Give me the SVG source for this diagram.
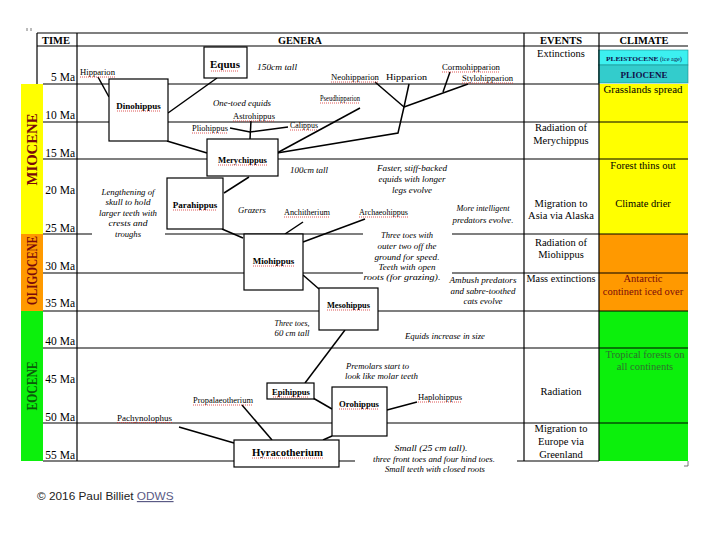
<svg xmlns="http://www.w3.org/2000/svg" width="720" height="540" viewBox="0 0 720 540">
<style>
text{font-family:"Liberation Serif","Times New Roman",serif;fill:#000}
.g line{stroke:#000;stroke-width:1.2}
.c line,.c polyline{stroke:#000;stroke-width:1.5;fill:none}
.bx{fill:#fff;stroke:#000;stroke-width:1.2}
.bl{font-weight:bold;font-size:9px;text-anchor:middle}
.big{font-size:11px}
.lb{font-size:8px}
.nt{font-size:8.5px;font-style:italic}
.ntc{font-size:8.5px;font-style:italic;text-anchor:middle}
.ev{font-size:10.5px;text-anchor:middle}
.hd{font-size:10.5px;font-weight:bold;text-anchor:middle}
.tm{font-size:11.5px;text-anchor:end}
.sq{stroke:#d42a2a;stroke-width:0.8;stroke-dasharray:1 1}
.ep{font-size:14px;font-weight:bold;text-anchor:middle}
.red{fill:#7a0a0a}
.dg{fill:#0a5a0a}
.tg{fill:#2f6f2f}
.nv{fill:#10104a}
.mask{fill:#fff}
</style>
<rect width="720" height="540" fill="#fff"/>

<g id="fills">
  <rect x="21" y="84" width="22" height="150" fill="#ffff00"/>
  <rect x="21" y="234" width="22" height="77" fill="#ff9900"/>
  <rect x="21" y="311" width="22" height="150" fill="#0cf00c"/>
  <rect x="599" y="84" width="89" height="150" fill="#ffff00"/>
  <rect x="599" y="234" width="89" height="77" fill="#ff9900"/>
  <rect x="599" y="311" width="89" height="150" fill="#0cf00c"/>
  <rect x="598.5" y="50" width="89.5" height="15" fill="#3cf0f0" stroke="#1a8a8a" stroke-width="0.6"/>
  <rect x="598.5" y="65" width="89.5" height="18" fill="#33cccc" stroke="#1a8a8a" stroke-width="0.6"/>
</g>

<g id="grid" class="g">
  <line x1="37" y1="33" x2="688" y2="33"/>
  <line x1="37" y1="46" x2="688" y2="46"/>
  <line x1="37" y1="33" x2="37" y2="84"/>
  <line x1="77" y1="33" x2="77" y2="461"/>
  <line x1="524" y1="33" x2="524" y2="461"/>
  <line x1="599" y1="33" x2="599" y2="461"/>
  <line x1="43" y1="84" x2="599" y2="84"/>
  <line x1="43" y1="122" x2="688" y2="122"/>
  <line x1="43" y1="159" x2="688" y2="159"/>
  <line x1="43" y1="234" x2="688" y2="234"/>
  <line x1="43" y1="273" x2="688" y2="273"/>
  <line x1="43" y1="311" x2="688" y2="311"/>
  <line x1="43" y1="348" x2="688" y2="348"/>
  <line x1="43" y1="423" x2="688" y2="423"/>
  <line x1="43" y1="461" x2="599" y2="461"/>
</g>
<g id="corner-marks" stroke="#555" stroke-width="0.8" fill="none">
  <path d="M27,28v3M31,28v3"/>
  <path d="M688,461v5h-4"/>
</g>

<g id="masks">
  <rect class="mask" x="92" y="184" width="73" height="57"/>
  <rect class="mask" x="363" y="228" width="89" height="56"/>
  <rect class="mask" x="355" y="440" width="162" height="36"/>
</g>

<g id="headers">
  <text class="hd" x="56" y="44" textLength="28" lengthAdjust="spacingAndGlyphs">TIME</text>
  <text class="hd" x="300" y="44" textLength="44" lengthAdjust="spacingAndGlyphs">GENERA</text>
  <text class="hd" x="561" y="44" textLength="42" lengthAdjust="spacingAndGlyphs">EVENTS</text>
  <text class="hd" x="644" y="44" textLength="49" lengthAdjust="spacingAndGlyphs">CLIMATE</text>
</g>

<g id="time">
  <text class="tm" x="75" y="81">5 Ma</text>
  <text class="tm" x="75" y="119">10 Ma</text>
  <text class="tm" x="75" y="157">15 Ma</text>
  <text class="tm" x="75" y="194">20 Ma</text>
  <text class="tm" x="75" y="232">25 Ma</text>
  <text class="tm" x="75" y="270">30 Ma</text>
  <text class="tm" x="75" y="307">35 Ma</text>
  <text class="tm" x="75" y="345">40 Ma</text>
  <text class="tm" x="75" y="383">45 Ma</text>
  <text class="tm" x="75" y="421">50 Ma</text>
  <text class="tm" x="75" y="459">55 Ma</text>
</g>

<g id="epochs">
  <text class="ep red" transform="translate(37,149.5) rotate(-90)" textLength="72" lengthAdjust="spacingAndGlyphs">MIOCENE</text>
  <text class="ep red" transform="translate(37,270.5) rotate(-90)" textLength="69" lengthAdjust="spacingAndGlyphs">OLIGOCENE</text>
  <text class="ep dg" transform="translate(37,386) rotate(-90)" textLength="49" lengthAdjust="spacingAndGlyphs">EOCENE</text>
</g>

<g id="connectors" class="c">
  <line x1="98" y1="77" x2="109" y2="97"/>
  <line x1="168" y1="113" x2="217" y2="78"/>
  <line x1="167" y1="141" x2="207" y2="153"/>
  <polyline points="230,128 250,132 288,127"/>
  <line x1="251" y1="121" x2="250" y2="139"/>
  <line x1="277" y1="153" x2="360" y2="108"/>
  <polyline points="277,153 398,133 404,107"/>
  <line x1="404" y1="107" x2="375" y2="82"/>
  <line x1="404" y1="107" x2="409" y2="84"/>
  <line x1="404" y1="107" x2="468" y2="84"/>
  <line x1="443" y1="92" x2="450" y2="72"/>
  <line x1="224" y1="193" x2="249" y2="177"/>
  <line x1="222" y1="229" x2="243" y2="238"/>
  <line x1="303" y1="222" x2="285" y2="234"/>
  <line x1="365" y1="219" x2="303" y2="242"/>
  <line x1="303" y1="275" x2="319" y2="289"/>
  <line x1="345" y1="330" x2="305" y2="383"/>
  <line x1="313" y1="398" x2="332" y2="409"/>
  <line x1="332" y1="436" x2="323" y2="440"/>
  <line x1="387" y1="410" x2="417" y2="402"/>
  <line x1="242" y1="405" x2="272" y2="440"/>
  <line x1="179" y1="427" x2="234" y2="443"/>
</g>

<g id="node-equus">
  <rect class="bx" x="204" y="47" width="43" height="31"/>
  <text class="bl big" x="225" y="68">Equus</text>
  <line class="sq" x1="211" y1="71" x2="239" y2="71"/>
</g>
<g id="node-dinohippus">
  <rect class="bx" x="109" y="79" width="59" height="62"/>
  <text class="bl" x="138.5" y="109">Dinohippus</text>
  <line class="sq" x1="117" y1="111" x2="160" y2="111"/>
</g>
<g id="node-merychippus">
  <rect class="bx" x="207" y="139" width="71" height="37"/>
  <text class="bl" x="242.5" y="163" textLength="49" lengthAdjust="spacingAndGlyphs">Merychippus</text>
  <line class="sq" x1="218" y1="165" x2="267" y2="165"/>
</g>
<g id="node-parahippus">
  <rect class="bx" x="167" y="178" width="56" height="51"/>
  <text class="bl" x="195" y="208">Parahippus</text>
  <line class="sq" x1="173" y1="210" x2="217" y2="210"/>
</g>
<g id="node-miohippus">
  <rect class="bx" x="244" y="234" width="59" height="56"/>
  <text class="bl" x="273.5" y="264">Miohippus</text>
  <line class="sq" x1="253" y1="266" x2="294" y2="266"/>
</g>
<g id="node-mesohippus">
  <rect class="bx" x="319" y="288" width="59" height="42"/>
  <text class="bl" x="348.5" y="308" textLength="43" lengthAdjust="spacingAndGlyphs">Mesohippus</text>
  <line class="sq" x1="327" y1="310" x2="370" y2="310"/>
</g>
<g id="node-epihippus">
  <rect class="bx" x="267" y="383" width="47" height="16"/>
  <text class="bl" x="291" y="395" textLength="38" lengthAdjust="spacingAndGlyphs">Epihippus</text>
  <line class="sq" x1="273" y1="397" x2="309" y2="397"/>
</g>
<g id="node-orohippus">
  <rect class="bx" x="332" y="387" width="55" height="49"/>
  <text class="bl" x="359" y="407" textLength="40" lengthAdjust="spacingAndGlyphs">Orohippus</text>
  <line class="sq" x1="339" y1="409" x2="379" y2="409"/>
</g>
<g id="node-hyracotherium">
  <rect class="bx" x="234" y="440" width="105" height="27"/>
  <text class="bl big" x="287.5" y="456" textLength="71" lengthAdjust="spacingAndGlyphs">Hyracotherium</text>
  <line class="sq" x1="252" y1="458" x2="323" y2="458"/>
</g>

<g id="genus-labels">
  <g id="lbl-hipparion1"><text class="lb" x="80" y="75" textLength="35" lengthAdjust="spacingAndGlyphs">Hipparion</text><line class="sq" x1="80" y1="77" x2="115" y2="77"/></g>
  <g id="lbl-neohipparion"><text class="lb" x="331" y="80" textLength="48" lengthAdjust="spacingAndGlyphs">Neohipparion</text><line class="sq" x1="331" y1="82" x2="379" y2="82"/></g>
  <g id="lbl-hipparion2"><text class="lb" x="386" y="80" textLength="41" lengthAdjust="spacingAndGlyphs">Hipparion</text></g>
  <g id="lbl-cormohipparion"><text class="lb" x="442" y="70" textLength="58" lengthAdjust="spacingAndGlyphs">Cormohipparion</text><line class="sq" x1="442" y1="72" x2="500" y2="72"/></g>
  <g id="lbl-stylohipparion"><text class="lb" x="462" y="81" textLength="51" lengthAdjust="spacingAndGlyphs">Stylohipparion</text><line class="sq" x1="462" y1="83" x2="513" y2="83"/></g>
  <g id="lbl-pseudhipparion"><text class="lb" x="320" y="101" textLength="40" lengthAdjust="spacingAndGlyphs">Pseudhipparion</text><line class="sq" x1="320" y1="103" x2="360" y2="103"/></g>
  <g id="lbl-calippus"><text class="lb" x="290" y="128" textLength="28" lengthAdjust="spacingAndGlyphs">Calippus</text><line class="sq" x1="290" y1="130" x2="318" y2="130"/></g>
  <g id="lbl-pliohippus"><text class="lb" x="192" y="131" textLength="36" lengthAdjust="spacingAndGlyphs">Pliohippus</text><line class="sq" x1="192" y1="133" x2="228" y2="133"/></g>
  <g id="lbl-astrohippus"><text class="lb" x="233" y="119" textLength="42" lengthAdjust="spacingAndGlyphs">Astrohippus</text><line class="sq" x1="233" y1="121" x2="275" y2="121"/></g>
  <g id="lbl-anchitherium"><text class="lb" x="284" y="215" textLength="46" lengthAdjust="spacingAndGlyphs">Anchitherium</text><line class="sq" x1="284" y1="217" x2="330" y2="217"/></g>
  <g id="lbl-archaeohippus"><text class="lb" x="359" y="215" textLength="49" lengthAdjust="spacingAndGlyphs">Archaeohippus</text><line class="sq" x1="359" y1="217" x2="408" y2="217"/></g>
  <g id="lbl-haplohippus"><text class="lb" x="418" y="400" textLength="44" lengthAdjust="spacingAndGlyphs">Haplohippus</text><line class="sq" x1="418" y1="402" x2="462" y2="402"/></g>
  <g id="lbl-propalaeotherium"><text class="lb" x="193" y="403" textLength="60" lengthAdjust="spacingAndGlyphs">Propalaeotherium</text><line class="sq" x1="193" y1="405" x2="253" y2="405"/></g>
  <g id="lbl-pachynolophus"><text class="lb" x="117" y="421" textLength="55" lengthAdjust="spacingAndGlyphs">Pachynolophus</text><line class="sq" x1="117" y1="422.5" x2="172" y2="422.5"/></g>
</g>

<g id="notes">
  <text class="nt" x="257" y="70" textLength="40" lengthAdjust="spacingAndGlyphs">150cm tall</text>
  <text class="nt" x="213" y="106" textLength="58" lengthAdjust="spacingAndGlyphs">One-toed equids</text>
  <text class="nt" x="290" y="173" textLength="38" lengthAdjust="spacingAndGlyphs">100cm tall</text>
  <text class="nt" x="238" y="213" textLength="28" lengthAdjust="spacingAndGlyphs">Grazers</text>
  <text class="ntc" x="412" y="171" textLength="70" lengthAdjust="spacingAndGlyphs">Faster, stiff-backed</text>
  <text class="ntc" x="412" y="182" textLength="67" lengthAdjust="spacingAndGlyphs">equids with longer</text>
  <text class="ntc" x="412" y="193" textLength="40" lengthAdjust="spacingAndGlyphs">legs evolve</text>
  <text class="ntc" x="128" y="195" textLength="53" lengthAdjust="spacingAndGlyphs">Lengthening of</text>
  <text class="ntc" x="128" y="205" textLength="45" lengthAdjust="spacingAndGlyphs">skull to hold</text>
  <text class="ntc" x="128" y="216" textLength="58" lengthAdjust="spacingAndGlyphs">larger teeth with</text>
  <text class="ntc" x="128" y="226" textLength="39" lengthAdjust="spacingAndGlyphs">crests and</text>
  <text class="ntc" x="128" y="237" textLength="26" lengthAdjust="spacingAndGlyphs">troughs</text>
  <text class="ntc" x="483" y="211" textLength="53" lengthAdjust="spacingAndGlyphs">More intelligent</text>
  <text class="ntc" x="483" y="223" textLength="61" lengthAdjust="spacingAndGlyphs">predators evolve.</text>
  <text class="ntc" x="407" y="238" textLength="52" lengthAdjust="spacingAndGlyphs">Three toes with</text>
  <text class="ntc" x="407" y="249" textLength="59" lengthAdjust="spacingAndGlyphs">outer two off the</text>
  <text class="ntc" x="407" y="260" textLength="65" lengthAdjust="spacingAndGlyphs">ground for speed.</text>
  <text class="ntc" x="407" y="270" textLength="57" lengthAdjust="spacingAndGlyphs">Teeth with open</text>
  <text class="ntc" x="402" y="280" textLength="77" lengthAdjust="spacingAndGlyphs">roots (for grazing).</text>
  <text class="ntc" x="483" y="283" textLength="67" lengthAdjust="spacingAndGlyphs">Ambush predators</text>
  <text class="ntc" x="483" y="294" textLength="65" lengthAdjust="spacingAndGlyphs">and sabre-toothed</text>
  <text class="ntc" x="483" y="304" textLength="39" lengthAdjust="spacingAndGlyphs">cats evolve</text>
  <text class="ntc" x="292" y="326" textLength="35" lengthAdjust="spacingAndGlyphs">Three toes,</text>
  <text class="ntc" x="292" y="336" textLength="35" lengthAdjust="spacingAndGlyphs">60 cm tall</text>
  <text class="nt" x="405" y="339" textLength="80" lengthAdjust="spacingAndGlyphs">Equids increase in size</text>
  <text class="nt" x="346" y="369" textLength="63" lengthAdjust="spacingAndGlyphs">Premolars start to</text>
  <text class="nt" x="345" y="379" textLength="73" lengthAdjust="spacingAndGlyphs">look like molar teeth</text>
  <text class="ntc" x="431" y="451" textLength="73" lengthAdjust="spacingAndGlyphs">Small (25 cm tall).</text>
  <text class="ntc" x="434" y="462" textLength="122" lengthAdjust="spacingAndGlyphs">three front toes and four hind toes.</text>
  <text class="ntc" x="435" y="472" textLength="100" lengthAdjust="spacingAndGlyphs">Small teeth with closed roots</text>
</g>

<g id="events">
  <text class="ev" x="561" y="57">Extinctions</text>
  <text class="ev" x="561" y="131">Radiation of</text>
  <text class="ev" x="561" y="144">Merychippus</text>
  <text class="ev" x="561" y="207">Migration to</text>
  <text class="ev" x="561" y="219">Asia via Alaska</text>
  <text class="ev" x="561" y="246">Radiation of</text>
  <text class="ev" x="561" y="258">Miohippus</text>
  <text class="ev" x="561" y="282" textLength="69" lengthAdjust="spacingAndGlyphs">Mass extinctions</text>
  <text class="ev" x="561" y="395">Radiation</text>
  <text class="ev" x="561" y="432">Migration to</text>
  <text class="ev" x="561" y="445">Europe via</text>
  <text class="ev" x="561" y="458">Greenland</text>
</g>

<g id="climate">
  <text class="nv" x="644" y="60.5" text-anchor="middle" textLength="76" lengthAdjust="spacingAndGlyphs"><tspan font-weight="bold" font-size="7">PLEISTOCENE</tspan><tspan font-size="6"> (ice age)</tspan></text>
  <text class="nv" x="644" y="77.5" text-anchor="middle" font-weight="bold" font-size="8.5" textLength="47" lengthAdjust="spacingAndGlyphs">PLIOCENE</text>
  <text class="ev" x="643" y="93" textLength="79" lengthAdjust="spacingAndGlyphs">Grasslands spread</text>
  <text class="ev" x="643" y="169">Forest thins out</text>
  <text class="ev" x="643" y="207">Climate drier</text>
  <text class="ev red" x="643" y="282">Antarctic</text>
  <text class="ev red" x="643" y="295">continent iced over</text>
  <text class="ev tg" x="645" y="358">Tropical forests on</text>
  <text class="ev tg" x="645" y="370">all continents</text>
</g>

<g id="credit">
  <text x="37" y="500" style="font-family:'Liberation Sans',Arial,sans-serif;font-size:11.8px;fill:#222">© 2016 Paul Billiet <tspan style="fill:#5a5a85;text-decoration:underline">ODWS</tspan></text>
</g>
</svg>
